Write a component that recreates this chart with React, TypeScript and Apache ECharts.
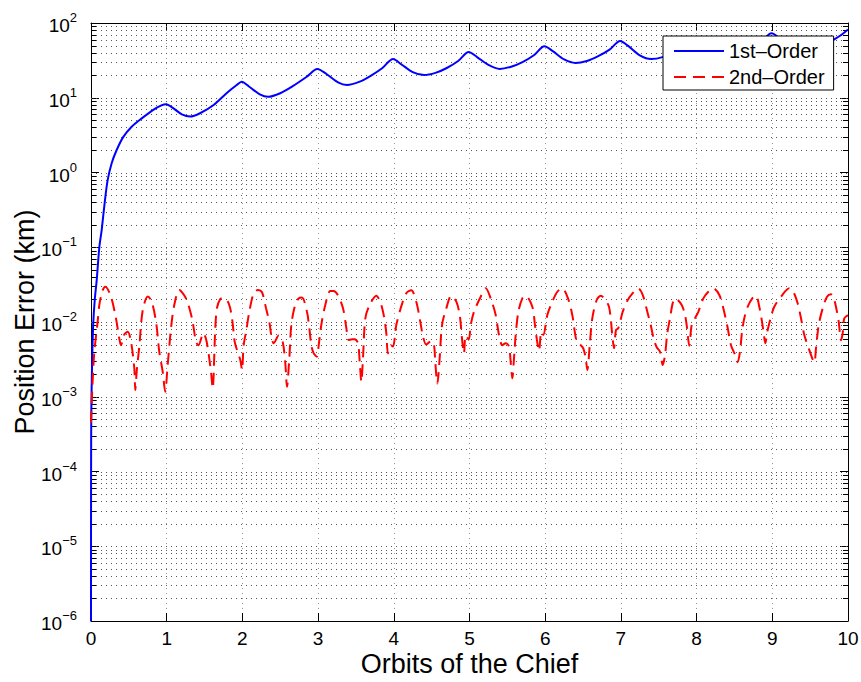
import React, { useEffect, useRef } from 'react';
import * as echarts from 'echarts';

const FONT = 'Liberation Sans, Arial, Helvetica, sans-serif';

const X_MIN = 0;
const X_MAX = 10;
const X_INTERVAL = 1;
const Y_MIN = 1e-6;
const Y_MAX = 100;
const DECADE_EXPONENTS = [-6, -5, -4, -3, -2, -1, 0, 1];
const MINOR_MULTIPLIERS = [2, 3, 4, 5, 6, 7, 8, 9];

const SERIES_NAMES = ['1st\u2013Order', '2nd\u2013Order'];

// 1st-order position error (km) vs orbits
const firstOrder: [number, number][] = [
  [0, 1e-6], [0.001, 1e-4], [0.004, 6e-4], [0.009, 1.4e-3], [0.018, 4e-3], [0.03, 0.0097],
  [0.05, 0.02], [0.075, 0.036], [0.11, 0.1], [0.141, 0.17], [0.185, 0.43], [0.22, 0.79],
  [0.273, 1.33], [0.339, 2.0], [0.427, 3.0], [0.537, 4.1], [0.67, 5.3], [0.823, 6.9],
  [0.93, 7.9], [0.99, 8.2], [1.09, 7.2], [1.2, 6.0], [1.31, 5.6], [1.44, 6.2], [1.62, 8.0],
  [1.79, 11.5], [1.925, 14.8], [1.99, 16.4], [2.1, 13.8], [2.23, 11.1], [2.34, 10.3],
  [2.5, 11.5], [2.67, 14.4], [2.85, 19.1], [2.99, 24.2], [3.11, 20.8], [3.27, 15.9],
  [3.38, 14.8], [3.55, 16.4], [3.7, 19.8], [3.85, 25], [3.99, 33],
  [4.1, 28], [4.25, 22], [4.4, 20.1], [4.55, 21.5], [4.7, 25], [4.85, 31], [4.99, 41],
  [5.1, 35], [5.25, 27.5], [5.4, 24.3], [5.55, 26], [5.7, 30], [5.85, 37], [5.99, 49],
  [6.1, 42], [6.25, 32.5], [6.4, 29.2], [6.55, 31], [6.7, 36], [6.85, 44], [6.99, 57.5],
  [7.1, 49], [7.25, 37], [7.4, 33], [7.55, 35], [7.7, 41], [7.85, 50], [7.99, 65],
  [8.1, 55], [8.25, 42], [8.4, 37.5], [8.55, 39.5], [8.7, 46], [8.85, 56], [8.99, 72.8],
  [9.1, 62], [9.25, 47], [9.4, 42], [9.55, 44], [9.7, 51], [9.8, 59], [9.9, 68], [10, 82],
];

// 2nd-order position error (km) vs orbits
const secondOrder: [number, number][] = [
  [0, 4.5e-4], [0.02, 1.5e-3], [0.044, 0.004], [0.088, 0.0101], [0.11, 0.0169], [0.15, 0.026],
  [0.19, 0.0297], [0.264, 0.0218], [0.33, 0.0112], [0.374, 0.006], [0.396, 0.0049], [0.44, 0.0068],
  [0.485, 0.0074], [0.528, 0.0055], [0.572, 0.0024], [0.585, 0.00123], [0.604, 0.0022],
  [0.638, 0.0047], [0.683, 0.0143], [0.75, 0.022], [0.8, 0.019], [0.859, 0.0101], [0.902, 0.004],
  [0.947, 0.00216], [0.98, 0.00117], [1.013, 0.00266], [1.057, 0.0083], [1.1, 0.0169],
  [1.166, 0.0268], [1.255, 0.0207], [1.334, 0.0112], [1.387, 0.00545], [1.42, 0.0049],
  [1.484, 0.0071], [1.528, 0.00545], [1.585, 0.00216], [1.607, 0.0013], [1.642, 0.0083],
  [1.664, 0.0154], [1.708, 0.0203], [1.75, 0.021], [1.819, 0.0178], [1.863, 0.0112],
  [1.898, 0.00545], [1.929, 0.0042], [1.972, 0.0031], [1.995, 0.00228], [2.017, 0.0049],
  [2.052, 0.0078], [2.091, 0.0137], [2.149, 0.0243], [2.206, 0.0268], [2.259, 0.025],
  [2.312, 0.0153], [2.355, 0.0101], [2.391, 0.00574], [2.413, 0.0052], [2.479, 0.0066],
  [2.532, 0.00545], [2.567, 0.0028], [2.589, 0.00136], [2.62, 0.0033], [2.646, 0.0091],
  [2.691, 0.016], [2.74, 0.0205], [2.787, 0.0212], [2.853, 0.0137], [2.884, 0.0083],
  [2.91, 0.0049], [2.942, 0.0038], [2.985, 0.00344], [3.008, 0.0049], [3.042, 0.0091],
  [3.095, 0.0169], [3.161, 0.026], [3.2, 0.026], [3.26, 0.023], [3.329, 0.0153],
  [3.373, 0.0083], [3.404, 0.00574], [3.45, 0.0059], [3.483, 0.0059], [3.527, 0.0052],
  [3.55, 0.0029], [3.571, 0.00159], [3.593, 0.0033], [3.624, 0.0112], [3.681, 0.0169],
  [3.769, 0.0225], [3.827, 0.0178], [3.871, 0.0118], [3.901, 0.0071], [3.923, 0.0038],
  [3.959, 0.0049], [3.989, 0.0047], [4.033, 0.0091], [4.091, 0.0153], [4.165, 0.0243],
  [4.231, 0.0266], [4.297, 0.0187], [4.342, 0.0112], [4.386, 0.0064], [4.429, 0.005],
  [4.495, 0.0056], [4.531, 0.0049], [4.548, 0.0029], [4.575, 0.0015], [4.606, 0.0033],
  [4.637, 0.0091], [4.694, 0.0153], [4.76, 0.0225], [4.826, 0.0187], [4.871, 0.0124],
  [4.901, 0.006], [4.927, 0.0038], [4.95, 0.0066], [4.99, 0.0058], [5.016, 0.0091],
  [5.059, 0.0137], [5.148, 0.0218], [5.214, 0.0282], [5.28, 0.0207], [5.346, 0.0124],
  [5.39, 0.0067], [5.433, 0.0049], [5.478, 0.0052], [5.522, 0.0047], [5.544, 0.0029],
  [5.566, 0.00177], [5.588, 0.0033], [5.61, 0.0067], [5.645, 0.0137], [5.698, 0.0207],
  [5.742, 0.0225], [5.83, 0.016], [5.865, 0.0091], [5.888, 0.006], [5.918, 0.0041],
  [5.949, 0.0074], [5.975, 0.0067], [6.028, 0.0124], [6.094, 0.0187], [6.16, 0.0254],
  [6.226, 0.0282], [6.301, 0.0207], [6.358, 0.0124], [6.416, 0.00545], [6.469, 0.0049],
  [6.503, 0.00445], [6.535, 0.0033], [6.556, 0.00228], [6.592, 0.00545], [6.622, 0.0112],
  [6.68, 0.0197], [6.733, 0.0225], [6.834, 0.0169], [6.865, 0.0112], [6.882, 0.0074],
  [6.909, 0.00445], [6.935, 0.0078], [6.966, 0.0083], [7.024, 0.0137], [7.077, 0.0187],
  [7.156, 0.0243], [7.23, 0.0282], [7.288, 0.023], [7.349, 0.0137], [7.394, 0.0091],
  [7.437, 0.00574], [7.473, 0.0046], [7.517, 0.004], [7.552, 0.00266], [7.583, 0.0036],
  [7.613, 0.0071], [7.649, 0.0112], [7.684, 0.0178], [7.719, 0.0207], [7.803, 0.0169],
  [7.847, 0.0124], [7.869, 0.0091], [7.904, 0.0048], [7.935, 0.0091], [7.979, 0.0112],
  [8.023, 0.0137], [8.089, 0.0207], [8.155, 0.0254], [8.221, 0.0282], [8.3, 0.023],
  [8.353, 0.0153], [8.411, 0.0083], [8.454, 0.0049], [8.511, 0.0036], [8.543, 0.0029],
  [8.573, 0.004], [8.6, 0.0074], [8.63, 0.0112], [8.675, 0.016], [8.74, 0.021],
  [8.785, 0.0225], [8.828, 0.016], [8.864, 0.0101], [8.886, 0.0071], [8.907, 0.0052],
  [8.939, 0.0078], [8.983, 0.0118], [9.026, 0.016], [9.115, 0.0218], [9.225, 0.0282],
  [9.277, 0.0254], [9.335, 0.0178], [9.379, 0.0112], [9.423, 0.0067], [9.489, 0.0042],
  [9.555, 0.0029], [9.577, 0.00445], [9.613, 0.0091], [9.666, 0.0153], [9.723, 0.0218],
  [9.775, 0.0235], [9.806, 0.0218], [9.841, 0.016], [9.877, 0.0101], [9.908, 0.0057],
  [9.93, 0.0071], [9.951, 0.0112], [10, 0.0124],
];

const minorGridValues: number[] = [];
DECADE_EXPONENTS.forEach((e) => {
  MINOR_MULTIPLIERS.forEach((m) => minorGridValues.push(m * Math.pow(10, e)));
});
const majorGridValues: number[] = DECADE_EXPONENTS.slice(1).map((e) => Math.pow(10, e));

function expLabel(v: number): string {
  const e = Math.round(Math.log10(v));
  const s = e < 0 ? '\u2212' + String(-e) : String(e);
  return `{b|10}{e|${s}}`;
}

export default function App() {
  const ref = useRef<HTMLDivElement>(null);

  useEffect(() => {
    if (!ref.current) return;
    const chart = echarts.init(ref.current, undefined, { renderer: 'svg' });

    const crisp = (n: number) => Math.round(n) + 0.5;

    const option: any = {
      animation: false,
      backgroundColor: '#fff',
      textStyle: { fontFamily: FONT },
      grid: { left: 91, top: 23, right: 13, bottom: 61, containLabel: false, outerBoundsMode: 'none' },
      legend: {
        data: SERIES_NAMES,
        orient: 'vertical',
        left: 663,
        top: 36,
        backgroundColor: '#fff',
        borderColor: '#000',
        borderWidth: 1,
        borderRadius: 0,
        padding: [5, 9, 3, 10],
        itemWidth: 50,
        itemHeight: 14,
        itemGap: 6,
        selectedMode: false,
        itemStyle: { opacity: 0 },
        textStyle: { fontSize: 20, color: '#000', fontFamily: FONT },
      },
      xAxis: [
        {
          type: 'value',
          min: X_MIN,
          max: X_MAX,
          interval: X_INTERVAL,
          position: 'bottom',
          name: 'Orbits of the Chief',
          nameLocation: 'middle',
          nameGap: 29,
          nameMoveOverlap: false,
          nameTextStyle: { fontSize: 27, color: '#000', fontFamily: FONT, lineHeight: 28 },
          axisLine: { show: true, onZero: false, lineStyle: { color: '#000', width: 1 } },
          axisTick: { show: true, inside: true, length: 8, lineStyle: { color: '#000' } },
          axisLabel: { show: true, fontSize: 19, lineHeight: 19, color: '#000', fontFamily: FONT, margin: 8 },
          splitLine: { show: true, lineStyle: { color: '#999', width: 1, type: [1, 4] } },
        },
        {
          type: 'value',
          min: X_MIN,
          max: X_MAX,
          interval: X_INTERVAL,
          position: 'top',
          axisLine: { show: true, onZero: false, lineStyle: { color: '#000', width: 1 } },
          axisTick: { show: true, inside: true, length: 8, lineStyle: { color: '#000' } },
          axisLabel: { show: false },
          splitLine: { show: false },
        },
      ],
      yAxis: [
        {
          type: 'log',
          logBase: 10,
          min: Y_MIN,
          max: Y_MAX,
          position: 'left',
          name: 'Position Error (km)',
          nameLocation: 'middle',
          nameGap: 53,
          nameMoveOverlap: false,
          nameTextStyle: { fontSize: 27, color: '#000', fontFamily: FONT },
          axisLine: { show: true, onZero: false, lineStyle: { color: '#000', width: 1 } },
          axisTick: { show: true, inside: true, length: 8, lineStyle: { color: '#000' } },
          axisLabel: {
            show: true,
            margin: 14,
            formatter: expLabel,
            rich: {
              b: { fontSize: 19, color: '#000', fontFamily: FONT, verticalAlign: 'bottom', lineHeight: 22 },
              e: { fontSize: 13, color: '#000', fontFamily: FONT, verticalAlign: 'bottom', padding: [0, 0, 11, 0] },
            },
          },
          splitLine: { show: false },
        },
        {
          type: 'log',
          logBase: 10,
          min: Y_MIN,
          max: Y_MAX,
          position: 'right',
          axisLine: { show: true, onZero: false, lineStyle: { color: '#000', width: 1 } },
          axisTick: { show: true, inside: true, length: 8, lineStyle: { color: '#000' } },
          axisLabel: { show: false },
          splitLine: { show: false },
        },
      ],
      series: [
        {
          type: 'custom',
          name: 'gridLines',
          silent: true,
          z: 1,
          xAxisIndex: 0,
          yAxisIndex: 0,
          data: minorGridValues.map((v) => [X_MIN, v, 1]).concat(majorGridValues.map((v) => [X_MIN, v, 0])),
          renderItem: (params: any, api: any) => {
            const v = api.value(1);
            const isMinor = api.value(2) === 1;
            const a = api.coord([X_MIN, v]);
            const b = api.coord([X_MAX, v]);
            const y = crisp(a[1]);
            const children: any[] = [
              {
                type: 'line',
                shape: { x1: a[0], y1: y, x2: b[0], y2: y },
                style: { stroke: '#555', lineWidth: 1, lineDash: [1, 4] },
              },
            ];
            if (isMinor) {
              children.push(
                { type: 'line', shape: { x1: a[0], y1: y, x2: a[0] + 5, y2: y }, style: { stroke: '#000', lineWidth: 1 } },
                { type: 'line', shape: { x1: b[0] - 5, y1: y, x2: b[0], y2: y }, style: { stroke: '#000', lineWidth: 1 } },
              );
            }
            return { type: 'group', children };
          },
        },
        {
          type: 'line',
          name: SERIES_NAMES[0],
          xAxisIndex: 0,
          yAxisIndex: 0,
          data: firstOrder,
          symbol: 'none',
          smooth: 0.3,
          z: 3,
          lineStyle: { color: '#0000ff', width: 2 },
          itemStyle: { color: '#0000ff' },
        },
        {
          type: 'line',
          name: SERIES_NAMES[1],
          xAxisIndex: 0,
          yAxisIndex: 0,
          data: secondOrder,
          symbol: 'none',
          smooth: 0.3,
          z: 4,
          lineStyle: { color: '#ff0000', width: 2, type: [12, 7] },
          itemStyle: { color: '#ff0000' },
        },
      ],
    };

    chart.setOption(option);
    return () => chart.dispose();
  }, []);

  return <div ref={ref} style={{ position: 'absolute', left: 0, top: 0, width: 861, height: 682 }} />;
}
